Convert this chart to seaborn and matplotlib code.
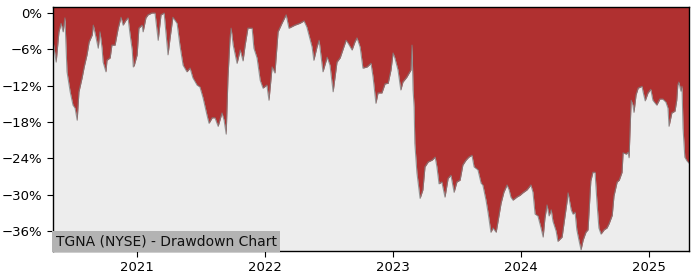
import matplotlib
matplotlib.use("Agg")
import matplotlib.pyplot as plt
import matplotlib.dates as mdates
from matplotlib.ticker import FuncFormatter
import pandas as pd
import seaborn as sns

dates = [
    "2020-05-06", "2020-05-15", "2020-05-23", "2020-05-29", "2020-06-04", "2020-06-09",
    "2020-06-15", "2020-06-24", "2020-07-02", "2020-07-08", "2020-07-14", "2020-07-19",
    "2020-07-28", "2020-08-03", "2020-08-11", "2020-08-17", "2020-08-26", "2020-08-29",
    "2020-09-06", "2020-09-12", "2020-09-17", "2020-09-23", "2020-09-26", "2020-10-04",
    "2020-10-07", "2020-10-16", "2020-10-21", "2020-10-30", "2020-11-08", "2020-11-16",
    "2020-11-22", "2020-11-30", "2020-12-06", "2020-12-12", "2020-12-18", "2020-12-21",
    "2020-12-24", "2021-01-01", "2021-01-06", "2021-01-15", "2021-01-18", "2021-01-26",
    "2021-02-01", "2021-02-12", "2021-02-21", "2021-03-02", "2021-03-10", "2021-03-19",
    "2021-03-30", "2021-04-05", "2021-04-13", "2021-04-25", "2021-05-03", "2021-05-12",
    "2021-05-23", "2021-06-01", "2021-06-09", "2021-06-21", "2021-06-29", "2021-07-08",
    "2021-07-19", "2021-07-25", "2021-08-03", "2021-08-11", "2021-08-20", "2021-08-31",
    "2021-09-06", "2021-09-12", "2021-09-17", "2021-09-23", "2021-09-26", "2021-10-02",
    "2021-10-13", "2021-10-22", "2021-10-30", "2021-11-05", "2021-11-13", "2021-11-25",
    "2021-11-30", "2021-12-09", "2021-12-18", "2021-12-26", "2022-01-06", "2022-01-12",
    "2022-01-21", "2022-01-29", "2022-02-07", "2022-02-18", "2022-03-02", "2022-03-10",
    "2022-03-27", "2022-04-10", "2022-04-22", "2022-04-30", "2022-05-15", "2022-05-20",
    "2022-05-29", "2022-06-04", "2022-06-15", "2022-06-27", "2022-07-05", "2022-07-14",
    "2022-07-25", "2022-08-03", "2022-08-20", "2022-08-26", "2022-09-06", "2022-09-14",
    "2022-09-20", "2022-09-29", "2022-10-07", "2022-10-19", "2022-10-30", "2022-11-05",
    "2022-11-13", "2022-11-19", "2022-11-30", "2022-12-09", "2022-12-18", "2022-12-26",
    "2023-01-01", "2023-01-06", "2023-01-15", "2023-01-23", "2023-01-29", "2023-02-09",
    "2023-02-18", "2023-02-21", "2023-02-24", "2023-02-27", "2023-03-02", "2023-03-04",
    "2023-03-10", "2023-03-19", "2023-03-27", "2023-04-02", "2023-04-11", "2023-04-22",
    "2023-05-01", "2023-05-06", "2023-05-12", "2023-05-20", "2023-05-29", "2023-06-07",
    "2023-06-15", "2023-06-24", "2023-07-02", "2023-07-11", "2023-07-19", "2023-07-28",
    "2023-08-05", "2023-08-14", "2023-08-20", "2023-08-31", "2023-09-09", "2023-09-14",
    "2023-09-23", "2023-09-29", "2023-10-07", "2023-10-13", "2023-10-22", "2023-10-27",
    "2023-11-05", "2023-11-13", "2023-11-22", "2023-11-28", "2023-12-03", "2023-12-09",
    "2023-12-20", "2023-12-29", "2024-01-06", "2024-01-18", "2024-01-29", "2024-02-04",
    "2024-02-10", "2024-02-18", "2024-02-27", "2024-03-04", "2024-03-09", "2024-03-15",
    "2024-03-21", "2024-03-27", "2024-04-01", "2024-04-10", "2024-04-15", "2024-04-27",
    "2024-05-03", "2024-05-11", "2024-05-14", "2024-05-23", "2024-05-28", "2024-06-03",
    "2024-06-08", "2024-06-14", "2024-06-20", "2024-06-26", "2024-07-04", "2024-07-10",
    "2024-07-18", "2024-07-24", "2024-07-30", "2024-08-05", "2024-08-10", "2024-08-16",
    "2024-08-25", "2024-09-02", "2024-09-08", "2024-09-17", "2024-09-22", "2024-10-01",
    "2024-10-07", "2024-10-15", "2024-10-18", "2024-10-27", "2024-11-01", "2024-11-04",
    "2024-11-10", "2024-11-15", "2024-11-18", "2024-11-24", "2024-11-30", "2024-12-11",
    "2024-12-14", "2024-12-20", "2024-12-28", "2025-01-05", "2025-01-11", "2025-01-22",
    "2025-01-31", "2025-02-08", "2025-02-17", "2025-02-23", "2025-02-26", "2025-03-06",
    "2025-03-15", "2025-03-20", "2025-03-23", "2025-03-26", "2025-04-01", "2025-04-04",
    "2025-04-07", "2025-04-12", "2025-04-18", "2025-04-24",
]

drawdown_pct = [
    -4.5, -8.1, -3.1, -1.7, -3.1, -0.8,
    -9.7, -13.0, -15.2, -15.7, -17.7, -13.0,
    -10.7, -8.9, -6.9, -4.8, -3.6, -2.0,
    -4.1, -5.8, -3.1, -5.8, -8.1, -9.7,
    -7.8, -7.4, -5.3, -5.3, -2.5, -0.7,
    -2.0, -1.2, -0.8, -3.6, -6.1, -8.9,
    -8.6, -6.9, -2.5, -2.0, -3.1, -0.8,
    -0.3, 0.0, 0.0, -4.5, -0.3, 0.0,
    -6.9, -4.1, -0.7, -1.7, -5.3, -8.6,
    -9.7, -9.1, -10.7, -11.9, -12.2, -14.0,
    -16.8, -18.2, -17.3, -17.3, -18.7, -16.5,
    -17.7, -20.0, -10.7, -4.1, -2.5, -5.3,
    -8.3, -6.1, -7.9, -5.3, -2.5, -2.5,
    -5.8, -7.4, -11.1, -12.4, -11.9, -14.4,
    -8.9, -9.9, -3.1, -1.7, -0.3, -2.5,
    -2.0, -1.7, -1.3, -2.3, -5.6, -7.8,
    -5.6, -4.5, -9.7, -7.3, -8.6, -13.0,
    -8.1, -7.4, -4.5, -5.0, -6.1, -4.8,
    -4.1, -5.6, -9.1, -8.9, -8.3, -10.6,
    -14.9, -13.2, -13.2, -11.7, -11.6, -9.4,
    -6.6, -7.4, -9.4, -12.7, -11.4, -10.6,
    -9.7, -9.4, -5.3, -12.7, -15.5, -21.5,
    -26.4, -30.6, -29.2, -25.4, -24.6, -24.3,
    -23.8, -25.4, -28.2, -27.9, -30.4, -27.3,
    -26.8, -29.6, -27.9, -27.6, -25.1, -24.3,
    -23.8, -23.5, -25.4, -25.9, -28.1, -28.4,
    -30.9, -33.0, -36.2, -35.5, -36.2, -34.5,
    -31.4, -29.6, -28.4, -29.2, -30.4, -30.9,
    -30.4, -30.1, -29.7, -29.2, -28.4, -29.6,
    -33.2, -33.5, -35.5, -37.0, -33.9, -31.7,
    -33.5, -32.5, -34.4, -36.0, -37.7, -37.0,
    -34.5, -31.2, -29.7, -32.5, -33.2, -32.9,
    -35.8, -37.5, -39.1, -37.5, -36.2, -35.8,
    -27.7, -26.3, -26.3, -31.7, -35.5, -36.5,
    -35.8, -35.5, -34.8, -33.4, -30.2, -27.9,
    -27.6, -26.3, -23.1, -23.3, -23.0, -23.9,
    -14.4, -15.2, -16.4, -13.5, -12.4, -12.1,
    -13.0, -14.5, -13.2, -12.6, -14.4, -15.2,
    -14.2, -14.2, -14.7, -15.7, -18.7, -16.5,
    -16.2, -14.4, -11.9, -11.4, -12.9, -12.1,
    -19.0, -23.8, -24.4, -24.8,
]

y_ticks = [0, -6, -12, -18, -24, -30, -36]
x_tick_years = ["2021", "2022", "2023", "2024", "2025"]
label_text = "TGNA (NYSE) - Drawdown Chart"

df = pd.DataFrame({"date": pd.to_datetime(dates), "dd": drawdown_pct})

sns.set_style("ticks")
plt.rcParams["font.family"] = ["DejaVu Sans"]

fig = plt.figure(figsize=(7, 2.8), dpi=100)
ax = fig.add_axes([0.0757, 0.1036, 0.9086, 0.8714])
ax.set_facecolor("#ededed")

y_top, y_bottom = 1.0, -39.3
ax.fill_between(df["date"], df["dd"], y_top, color="#b03030", linewidth=0)
sns.lineplot(data=df, x="date", y="dd", ax=ax, color="#808080", linewidth=0.8, alpha=0.8)

ax.set_ylim(y_bottom, y_top)
ax.set_xlim(df["date"].iloc[0], df["date"].iloc[-1])
ax.set_yticks(y_ticks)
ax.yaxis.set_major_formatter(FuncFormatter(lambda v, p: f"{v:.0f}%".replace("-", "\u2212")))
ax.set_xticks(pd.to_datetime([f"{y}-01-01" for y in x_tick_years]))
ax.set_xticklabels(x_tick_years)
ax.tick_params(labelsize=9.5, length=4, width=0.8, colors="black")
ax.set_xlabel("")
ax.set_ylabel("")
for s in ax.spines.values():
    s.set_visible(True)
    s.set_color("black")
    s.set_linewidth(1.0)

ax.text(0.004, 0.012, label_text, transform=ax.transAxes, fontsize=10,
        ha="left", va="bottom", color="#111111",
        bbox=dict(facecolor="#b3b3b3", edgecolor="none", pad=2.5))

fig.savefig("out.png", dpi=100)
